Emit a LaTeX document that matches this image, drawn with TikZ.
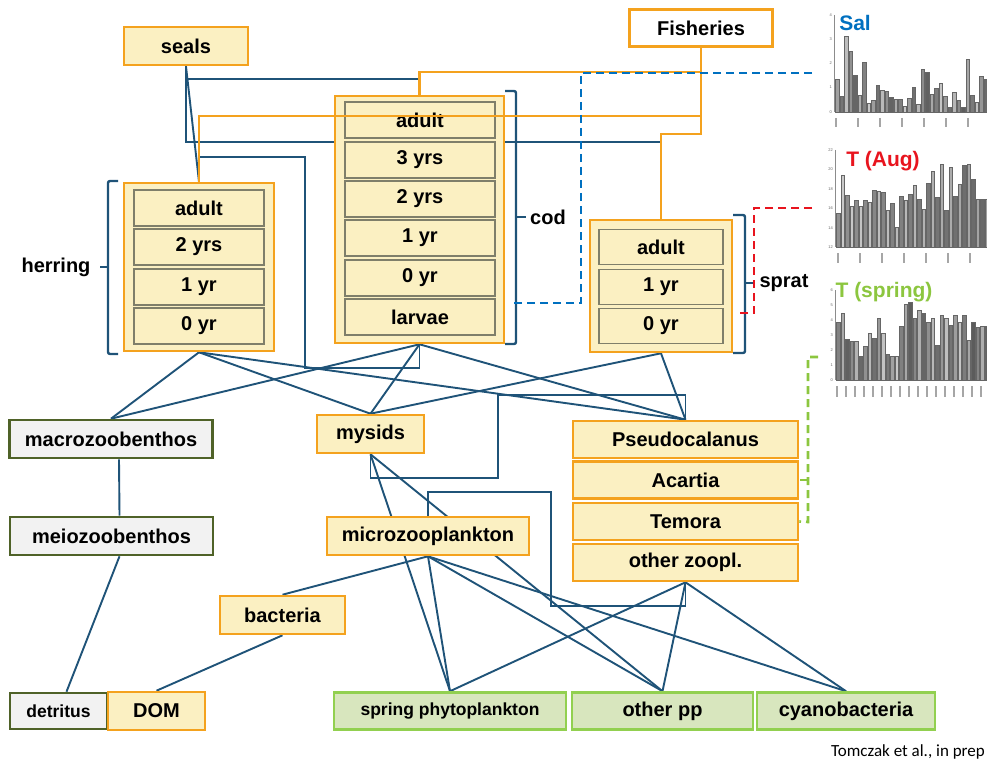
\documentclass[tikz,border=0pt]{standalone}
\usepackage{fontspec}
\setmainfont{Liberation Sans}
\newfontfamily\calfont{Carlito}
\usetikzlibrary{backgrounds}

\definecolor{foodblue}{HTML}{1F5378}
\definecolor{fishorange}{HTML}{F4A21E}
\definecolor{boxyellow}{HTML}{FBF0C2}
\definecolor{cellgray}{HTML}{7F7F6A}
\definecolor{benthgreen}{HTML}{4F6228}
\definecolor{benthfill}{HTML}{F2F2F2}
\definecolor{phytogreen}{HTML}{92D050}
\definecolor{phytofill}{HTML}{D8E6BE}
\definecolor{salblue}{HTML}{0070C0}
\definecolor{augred}{HTML}{E8141E}
\definecolor{springgreen}{HTML}{8CC63F}

\newcommand\labfont{\fontsize{20}{22}\selectfont\bfseries}
\newcommand\smallfont{\fontsize{17.5}{19}\selectfont\bfseries}
\newcommand\chartfont{\fontsize{21}{23}\selectfont\bfseries}
\newcommand\tickfont{\fontsize{4}{4}\selectfont}

\begin{document}
\begin{tikzpicture}
[x=1pt,y=-1pt,
 groupbox/.style={draw=fishorange,line width=2.6pt,fill=boxyellow,inner sep=0pt},
 cellbox/.style={draw=cellgray,line width=1.2pt,fill=boxyellow,inner sep=0pt,font=\labfont},
 zoobox/.style={draw=fishorange,line width=2.6pt,fill=boxyellow,inner sep=0pt,font=\labfont},
 benthbox/.style={draw=benthgreen,line width=2.6pt,fill=benthfill,inner sep=0pt,font=\labfont},
 phytobox/.style={draw=phytogreen,line width=2.6pt,fill=phytofill,inner sep=0pt,font=\labfont},
 feed/.style={draw=foodblue,line width=1.9pt},
 catch/.style={draw=fishorange,line width=2.6pt},
 agebrace/.style={draw=foodblue,line width=2.4pt,rounded corners=2pt},
 envlink/.style={dash pattern=on 8pt off 5pt,line width=2.6pt},
 axisline/.style={draw=black!45,line width=0.6pt},
 chartbar/.style={draw=black!60,line width=0.4pt},
 ticklab/.style={font=\tickfont,text=black!60,anchor=east,inner sep=1pt},
 yearmark/.style={draw=black!35,line width=1.3pt}]
\useasboundingbox (0,0) rectangle (987,762);

%% top predators and fisheries
\node[zoobox,minimum width=124,minimum height=38] (seals) at (186,46) {seals};
\node[zoobox,fill=white,minimum width=143,minimum height=37] (fisheries) at (701,28) {Fisheries};

%% fish age groups
\node[groupbox,minimum width=150,minimum height=168] (herring) at (199,267) {};
\node[groupbox,minimum width=169,minimum height=247] (cod) at (419.5,219.5) {};
\node[groupbox,minimum width=142,minimum height=132] (sprat) at (661,286) {};
\foreach \cellname/\txt/\y in {hadult/adult/208, h2/2 yrs/247, h1/1 yr/287, h0/0 yr/326}
{
  \node[cellbox,minimum width=130,minimum height=36] (\cellname) at (199,\y) {\txt};
}
\foreach \cellname/\txt/\y in {cadult/adult/120, c3/3 yrs/160, c2/2 yrs/199, c1/1 yr/238, c0/0 yr/278, clarvae/larvae/317}
{
  \node[cellbox,minimum width=150,minimum height=36] (\cellname) at (420,\y) {\txt};
}
\foreach \cellname/\txt/\y in {sadult/adult/247, s1/1 yr/287, s0/0 yr/326}
{
  \node[cellbox,minimum width=124,minimum height=35] (\cellname) at (661,\y) {\txt};
}

%% species braces
\node[font=\labfont] (herringlab) at (56,267) {herring};
\node[font=\labfont] (codlab) at (548,217) {cod};
\node[font=\labfont] (spratlab) at (784,283) {sprat};
\draw[agebrace] (118,181) -- (108,181) -- (108,354) -- (118,354);
\draw[agebrace] (108,267) -- (100,267);
\draw[agebrace] (505,91) -- (516,91) -- (516,344) -- (505,344);
\draw[agebrace] (516,217) -- (526,217);
\draw[agebrace] (733,215) -- (745,215) -- (745,353) -- (733,353);
\draw[agebrace] (745,283) -- (755,283);

%% benthos, mysids, microbes
\node[benthbox,minimum width=203,minimum height=38] (macro) at (111,439) {macrozoobenthos};
\node[benthbox,minimum width=203,minimum height=38] (meio) at (111.5,536) {meiozoobenthos};
\node[benthbox,minimum width=97,minimum height=36,font=\smallfont] (detritus) at (58.5,711) {detritus};
\node[zoobox,minimum width=97,minimum height=38] (DOM) at (156.5,711) {DOM};
\node[zoobox,minimum width=125,minimum height=38] (bacteria) at (282.5,615) {bacteria};
\node[zoobox,minimum width=107,minimum height=38] (mysids) at (370.5,434) {mysids};
\node[zoobox,minimum width=202,minimum height=38] (microzoo) at (428,536) {microzooplankton};

%% zooplankton
\foreach \zname/\txt/\y in {pseudo/Pseudocalanus/439.5, acartia/Acartia/480, temora/Temora/521.5, otherzoo/other zoopl./562.5}
{
  \node[zoobox,minimum width=225,minimum height=37] (\zname) at (685.5,\y) {\txt};
}

%% phytoplankton
\node[phytobox,minimum width=232,minimum height=37,font=\smallfont] (spring) at (450,711) {spring phytoplankton};
\node[phytobox,minimum width=181,minimum height=37] (otherpp) at (662.5,711) {other pp};
\node[phytobox,minimum width=178,minimum height=37] (cyano) at (846,711) {cyanobacteria};

%% feeding links
\coordinate (sealbend) at (0,79);
\coordinate (sealbend2) at (0,142);
\coordinate (eggtop) at (305,157);
\coordinate (eggbot) at (305,368);
\coordinate (mysbox1) at (498,478);
\coordinate (mysbox2) at (498,395);
\coordinate (mzbox1) at (551,492);
\coordinate (mzbox2) at (551,606);
\begin{scope}[on background layer]
\foreach \pred/\prey in {herring/macro, herring/mysids, herring/pseudo, cod/macro, cod/mysids,
  cod/pseudo, sprat/mysids, sprat/pseudo, mysids/spring, mysids/otherpp, microzoo/bacteria,
  microzoo/spring, microzoo/otherpp, microzoo/cyano, otherzoo/spring, otherzoo/otherpp,
  otherzoo/cyano, bacteria/DOM}
{
  \draw[feed] (\pred.south) -- (\prey.north);
}
\draw[feed] ([xshift=8pt]macro.south) -- ([xshift=8pt]meio.north);
\draw[feed] ([xshift=8pt]meio.south) -- ([xshift=8pt]detritus.north);
\draw[feed] (seals.south) -- (herring.north);
\draw[feed] (seals.south) -- (seals.south |- sealbend) -| (cod.north);
\draw[feed] (seals.south) -- (seals.south |- sealbend2) -| (sprat.north);
\draw[feed] (herring.north) -- (herring.north |- eggtop) -- (eggtop) -- (eggbot) -| (cod.south);
\draw[feed] (mysids.south) |- (mysbox1) -- (mysbox2) -| (pseudo.north);
\draw[feed] (microzoo.north) |- (mzbox1) -- (mzbox2) -| (otherzoo.south);
\end{scope}

%% fisheries links
\coordinate (fishcod) at (0,72);
\coordinate (fishherr) at (0,116);
\coordinate (fishsprat) at (0,134);
\draw[catch] (fisheries.south) -- (fisheries.south |- fishsprat) -| (sprat.north);
\draw[catch] (fisheries.south) -- (fisheries.south |- fishcod) -| (cod.north);
\draw[catch] (fisheries.south) -- (fisheries.south |- fishherr) -| (herring.north);

%% environmental links
\coordinate (salend) at (812,73);
\coordinate (salturn) at (581,303);
\coordinate (salhit) at (510,303);
\coordinate (augend) at (812,208);
\coordinate (augturn) at (754,313);
\coordinate (aughit) at (738,313);
\coordinate (springend) at (818,357);
\coordinate (springturn) at (808,522);
\draw[envlink,draw=salblue] (salend) -| (salturn) -- (salhit);
\draw[envlink,draw=augred] (augend) -| (augturn) -- (aughit);
\draw[envlink,draw=springgreen] (springend) -| (springturn) -- (temora.east);
\draw[envlink,draw=springgreen] (springturn |- acartia.east) -- (acartia.east);

%% Sal chart
\draw[axisline] (834,15) -- (834,112);
\foreach \v/\y in {4/15,3/39,2/63,1/87,0/112}
  \node[ticklab] at (833,\y) {\v};
\foreach \h [count=\i] in {33,16,76,61,37,17,50,9,12,27,22,21,15,13,13,6,14,25,8,43,40,18,24,29,16,5,20,12,5,53,17,10,36,33}
{
  \pgfmathtruncatemacro\shade{20+mod(\i*17,45)}
  \draw[chartbar,fill=black!\shade] ({831+4.5*\i},112) rectangle ++(3.2,-\h);
}
\foreach \x in {836,858,880,902,924,946,968}
  \draw[yearmark] (\x,118) -- (\x,127);
\node[font=\chartfont,text=salblue] (saltitle) at (855,23) {Sal};

%% T (Aug) chart
\draw[axisline] (835,150) -- (835,247);
\foreach \v/\y in {22/150,20/169,18/189,16/208,14/228,12/247}
  \node[ticklab] at (834,\y) {\v};
\foreach \h [count=\i] in {34,72,52,41,47,41,47,45,57,56,55,37,44,20,51,47,53,62,48,38,64,76,50,83,37,80,51,63,82,83,68,48,48,48}
{
  \pgfmathtruncatemacro\shade{20+mod(\i*23,45)}
  \draw[chartbar,fill=black!\shade] ({832+4.5*\i},247) rectangle ++(3.2,-\h);
}
\foreach \x in {838,860,882,904,926,948,970}
  \draw[yearmark] (\x,253) -- (\x,263);
\node[font=\chartfont,text=augred] (augtitle) at (883,161) {T (Aug)};

%% T (spring) chart
\draw[axisline] (835,290) -- (835,380);
\foreach \v/\y in {6/290,5/305,4/320,3/335,2/350,1/365,0/380}
  \node[ticklab] at (834,\y) {\v};
\foreach \h [count=\i] in {58,67,41,39,39,24,34,47,42,62,47,26,24,24,54,76,78,62,70,67,58,62,35,65,62,55,65,58,65,40,58,53,54,54}
{
  \pgfmathtruncatemacro\shade{20+mod(\i*29,45)}
  \draw[chartbar,fill=black!\shade] ({832+4.5*\i},380) rectangle ++(3.2,-\h);
}
\foreach \i in {0,...,16}
  \draw[yearmark] ({837+9*\i},386) -- ({837+9*\i},397);
\node[font=\chartfont,text=springgreen] (springtitle) at (884,292) {T (spring)};

%% source
\node[font=\calfont\fontsize{17}{19}\selectfont,anchor=east,inner sep=0pt] (source) at (985,752) {Tomczak et al., in prep};
\end{tikzpicture}
\end{document}
